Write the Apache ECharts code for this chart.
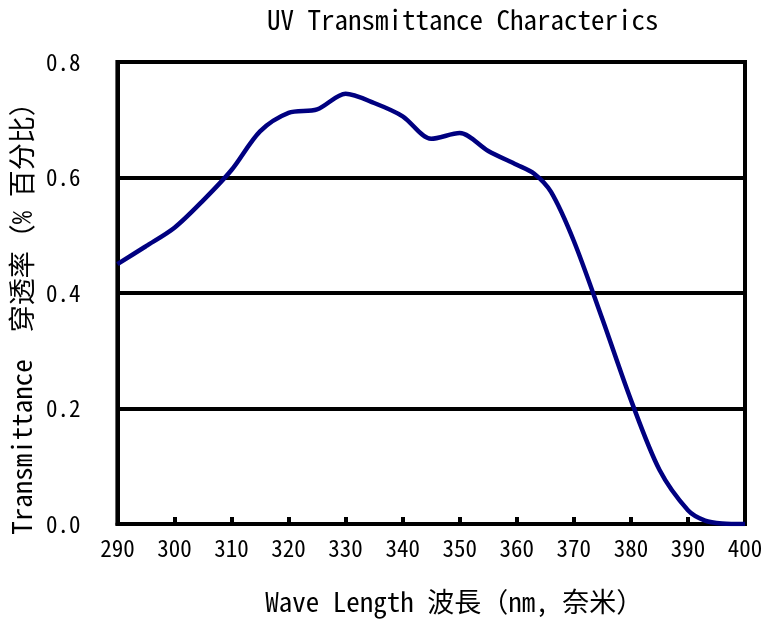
<!DOCTYPE html>
<html>
<head>
<meta charset="utf-8">
<script src="https://cdn.jsdelivr.net/npm/echarts@6/dist/echarts.min.js"></script>
<style>
  html, body { margin: 0; padding: 0; background: #fff; }
  #chart { width: 766px; height: 620px; }
</style>
</head>
<body>
<div id="chart"></div>
<script>
// wavelength (nm) and transmittance
const wavelength = [290, 295, 300, 305, 310, 315, 320, 325, 330, 335, 340, 345, 350, 355, 360, 363, 366, 370, 375, 380, 385, 390, 393, 396, 400]
const transmittance = [0.45, 0.481, 0.513, 0.56, 0.613, 0.68, 0.712, 0.718, 0.745, 0.729, 0.706, 0.667, 0.677, 0.646, 0.622, 0.607, 0.575, 0.49, 0.355, 0.215, 0.094, 0.024, 0.006, 0.001, 0.0]

const titleText = 'UV Transmittance Characterics'
const xName = 'Wave Length 波長（nm, 奈米）'
const yName = 'Transmittance  穿透率（% 百分比）'

const font = "'Noto Sans Mono CJK SC', 'Liberation Mono', 'Noto Sans CJK SC', monospace"

const chart = echarts.init(document.getElementById('chart'))

const option = {
  backgroundColor: '#fff',
  animation: false,
  title: {
    text: titleText,
    left: 262,
    top: 1,
    textStyle: { fontFamily: font, fontSize: 27, fontWeight: 'normal', color: '#000' }
  },
  grid: {
    left: 117,
    right: 21,
    top: 62,
    bottom: 96,
    show: true,
    borderColor: '#000',
    borderWidth: 4
  },
  xAxis: {
    type: 'value',
    min: 290,
    max: 400,
    interval: 10,
    name: xName,
    nameLocation: 'middle',
    nameGap: 64,
    nameTextStyle: { fontFamily: font, fontSize: 27, color: '#000', padding: [0, 0, 0, 46] },
    axisLine: { show: true, lineStyle: { color: '#000', width: 4 } },
    axisTick: { show: true, inside: true, length: 7, lineStyle: { color: '#000', width: 4 } },
    axisLabel: { fontFamily: font, fontSize: 23, color: '#000', margin: 13 },
    splitLine: { show: false }
  },
  yAxis: {
    type: 'value',
    min: 0,
    max: 0.8,
    interval: 0.2,
    name: yName,
    nameLocation: 'middle',
    nameRotate: 90,
    nameGap: 75,
    nameTextStyle: { fontFamily: font, fontSize: 27, color: '#000', padding: [0, 38, 0, 0] },
    axisLine: { show: true, lineStyle: { color: '#000', width: 4 } },
    axisTick: { show: false },
    axisLabel: {
      fontFamily: font,
      fontSize: 23,
      color: '#000',
      margin: 37,
      formatter: v => v.toFixed(1)
    },
    splitLine: { show: true, lineStyle: { color: '#000', width: 4 } }
  },
  series: [
    {
      type: 'line',
      data: wavelength.map((w, i) => [w, transmittance[i]]),
      smooth: 0.3,
      showSymbol: false,
      lineStyle: { color: '#000080', width: 4.5 }
    }
  ]
}

chart.setOption(option)
</script>
</body>
</html>
